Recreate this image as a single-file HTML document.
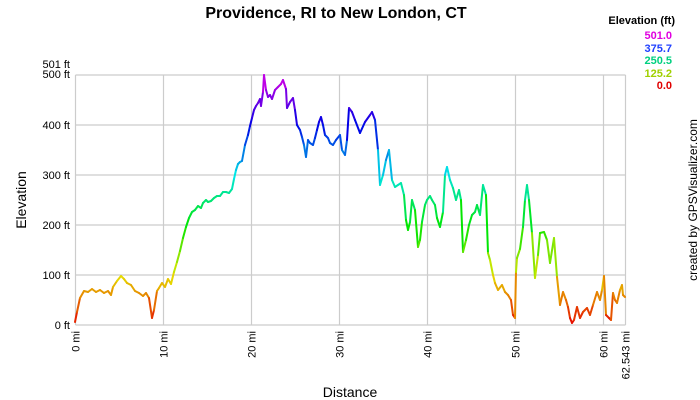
<!DOCTYPE html>
<html><head><meta charset="utf-8"><style>
html,body{margin:0;padding:0;background:#fff;}
svg{display:block;font-family:"Liberation Sans",Arial,sans-serif;}
</style></head><body>
<svg id="s" width="700" height="400" viewBox="0 0 700 400" xmlns="http://www.w3.org/2000/svg">
<rect width="700" height="400" fill="#fff"/>
<text x="336" y="18" font-size="16" font-weight="bold" text-anchor="middle">Providence, RI to New London, CT</text>
<g stroke="#cccccc" stroke-width="1.2" fill="none">
<line x1="75.5" y1="75" x2="625.5" y2="75"/>
<line x1="75.5" y1="125" x2="625.5" y2="125"/>
<line x1="75.5" y1="175" x2="625.5" y2="175"/>
<line x1="75.5" y1="225" x2="625.5" y2="225"/>
<line x1="75.5" y1="275" x2="625.5" y2="275"/>
<line x1="75.5" y1="325" x2="625.5" y2="325"/>
<line x1="75.5" y1="75" x2="75.5" y2="325"/>
<line x1="163.5" y1="75" x2="163.5" y2="325"/>
<line x1="251.5" y1="75" x2="251.5" y2="325"/>
<line x1="339.5" y1="75" x2="339.5" y2="325"/>
<line x1="427.5" y1="75" x2="427.5" y2="325"/>
<line x1="515.5" y1="75" x2="515.5" y2="325"/>
<line x1="603.5" y1="75" x2="603.5" y2="325"/>
<line x1="625.5" y1="75" x2="625.5" y2="325"/>
</g>
<g font-size="11" text-anchor="end" fill="#000">
<text x="70" y="68">501 ft</text>
<text x="70" y="78">500 ft</text>
<text x="70" y="129">400 ft</text>
<text x="70" y="179">300 ft</text>
<text x="70" y="229">200 ft</text>
<text x="70" y="279">100 ft</text>
<text x="70" y="329">0 ft</text>
</g>
<g font-size="11" text-anchor="end" fill="#000">
<text transform="translate(79.5,331) rotate(-90)">0 mi</text>
<text transform="translate(167.5,331) rotate(-90)">10 mi</text>
<text transform="translate(255.5,331) rotate(-90)">20 mi</text>
<text transform="translate(343.5,331) rotate(-90)">30 mi</text>
<text transform="translate(431.5,331) rotate(-90)">40 mi</text>
<text transform="translate(519.5,331) rotate(-90)">50 mi</text>
<text transform="translate(607.5,331) rotate(-90)">60 mi</text>
<text transform="translate(629.5,331) rotate(-90)">62.543 mi</text>
</g>
<text x="350" y="397" font-size="14" text-anchor="middle">Distance</text>
<text transform="translate(26,200) rotate(-90)" font-size="14" text-anchor="middle">Elevation</text>
<text transform="translate(697,200) rotate(-90)" font-size="12" text-anchor="middle">created by GPSVisualizer.com</text>
<text x="675" y="24" font-size="11" font-weight="bold" text-anchor="end">Elevation (ft)</text>
<g font-size="11" font-weight="bold" text-anchor="end">
<text x="672" y="39" fill="#e000e0">501.0</text>
<text x="672" y="52" fill="#2040ff">375.7</text>
<text x="672" y="64" fill="#00d080">250.5</text>
<text x="672" y="77" fill="#a0d000">125.2</text>
<text x="672" y="89" fill="#e00000">0.0</text>
</g>
<g id="line" stroke-width="2" fill="none" stroke-linecap="round"></g>
</svg>
<script>
var p=[75,322,77,312,80,298,84,291,88,292,92,289,96,292,100,290,104,293,108,291,111,295,113,287,117,281,121,276,124,279,127,283,131,285,135,291,139,293,143,296,146,293,149,298,152,318,154,310,157,291,159,288,162,283,165,287,168,279,171,284,174,272,177,262,180,251,183,238,186,227,189,218,192,212,195,210,198,206,201,208,203,203,206,200,208,202,211,201,214,198,217,196,220,196,223,192,226,192,229,193,232,189,234,179,236,170,238,164,240,162,242,161,245,145,248,135,250,126,252,118,254,110,256,106,258,103,260,99,261,106,263,92,264,75,266,90,268,97,270,95,272,99,275,90,278,87,281,84,283,80,286,89,287,108,290,102,293,98,295,110,297,125,300,130,302,137,304,145,306,157,308,140,310,143,313,145,315,138,317,130,319,122,321,117,323,125,325,135,328,138,330,143,333,145,336,140,340,135,342,150,345,155,347,140,349,108,352,112,355,120,360,133,365,122,370,115,372,112,375,120,378,150,380,185,383,175,386,160,389,150,392,180,395,187,398,185,401,183,404,195,406,220,408,230,410,222,412,200,415,210,418,247,420,240,422,222,425,205,427,200,430,196,432,200,435,205,437,218,440,227,443,212,445,175,447,167,450,180,453,188,456,200,459,190,461,200,463,252,466,240,469,225,472,215,475,212,477,205,480,215,483,185,486,195,488,253,490,260,493,275,495,283,498,290,502,285,505,292,508,295,511,300,513,315,515,318,516,272,517,258,520,249,523,227,525,200,527,185,529,200,532,233,535,278,538,255,540,233,544,232,547,240,550,263,554,238,557,277,560,305,563,292,566,300,568,307,570,318,572,323,574,320,577,307,580,318,583,312,587,308,590,315,593,305,597,292,600,300,602,290,604,276,606,315,609,318,611,320,613,293,615,300,617,303,620,290,622,285,623,295,625,297];
var g=document.getElementById('line'),h='';
for(var i=0;i<p.length-2;i+=2){var y=(p[i+1]+p[i+3])/2;var e=(325-y)*2;var hue=Math.max(0,Math.min(300,e*300/501));
h+='<line x1="'+p[i]+'" y1="'+p[i+1]+'" x2="'+p[i+2]+'" y2="'+p[i+3]+'" stroke="hsl('+hue.toFixed(0)+',100%,45%)"/>';}
g.innerHTML=h;
</script>
</body></html>
